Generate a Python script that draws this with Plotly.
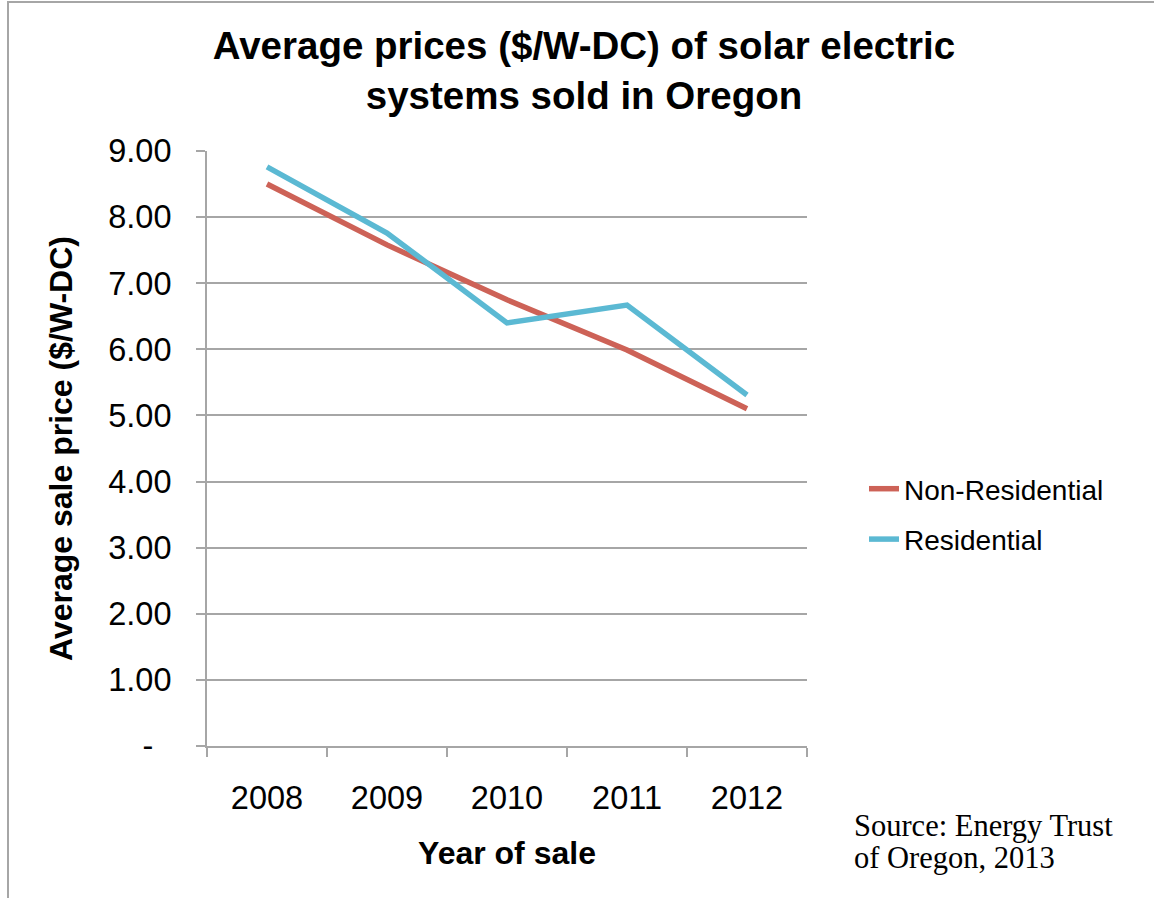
import plotly.graph_objects as go

years = ["2008", "2009", "2010", "2011", "2012"]
non_residential = [8.50, 7.58, 6.75, 5.99, 5.10]
residential = [8.76, 7.76, 6.40, 6.67, 5.31]
y_tick_vals = [0, 1, 2, 3, 4, 5, 6, 7, 8, 9]
y_tick_text = ["-\u2007", "1.00", "2.00", "3.00", "4.00", "5.00", "6.00", "7.00", "8.00", "9.00"]

RED = "#CD6257"
CYAN = "#5BB9D3"
GRID = "#A6A6A6"
FONT = "Liberation Sans, Arial, sans-serif"

W, H = 1154, 898
L, R, T, B = 207, 347, 151, 152
pw, ph = W - L - R, H - T - B

def px_x(x):
    return (x - L) / pw

def px_y(y):
    return (H - B - y) / ph

fig = go.Figure()
fig.add_trace(go.Scatter(x=years, y=non_residential, mode="lines", name="Non-Residential",
                         line=dict(color=RED, width=5.5), legendgroup="a"))
fig.add_trace(go.Scatter(x=years, y=residential, mode="lines", name="Residential",
                         line=dict(color=CYAN, width=5.5), legendgroup="b"))

fig.update_layout(
    width=W, height=H,
    margin=dict(l=L, r=R, t=T, b=B, pad=0),
    paper_bgcolor="white", plot_bgcolor="white",
    font=dict(family=FONT, color="black"),
    title=dict(text="<b>Average prices ($/W-DC) of solar electric<br>systems sold in Oregon</b>",
               font=dict(size=38.5, family=FONT, color="black"),
               x=px_x(584), xref="paper", xanchor="center",
               y=1 - 59 / H, yref="container", yanchor="top"),
    showlegend=True,
    legend=dict(x=px_x(864), xanchor="left", y=px_y(514), yanchor="middle",
                font=dict(size=28, family=FONT, color="black"),
                bgcolor="rgba(0,0,0,0)", tracegroupgap=11, itemwidth=30),
    xaxis=dict(type="category", showgrid=False, showline=True, linecolor=GRID, linewidth=2,
               ticks="outside", ticklen=9, tickwidth=2, tickcolor=GRID, tickson="boundaries",
               tickfont=dict(size=32.5, family=FONT, color="black"), ticklabelstandoff=22,
               title=dict(text="<b>Year of sale</b>", font=dict(size=32, family=FONT, color="black"),
                          standoff=27),
               range=[-0.5, 4.5], fixedrange=True),
    yaxis=dict(range=[0, 9], tickvals=y_tick_vals, ticktext=y_tick_text,
               showgrid=True, gridcolor=GRID, gridwidth=2,
               showline=True, linecolor=GRID, linewidth=2,
               ticks="outside", ticklen=9, tickwidth=2, tickcolor=GRID,
               tickfont=dict(size=32.5, family=FONT, color="black"), ticklabelstandoff=18,
               title=dict(text="<b>Average sale price ($/W-DC)</b>",
                          font=dict(size=32, family=FONT, color="black"), standoff=26),
               zeroline=False, fixedrange=True),
)

fig.add_shape(type="rect", xref="paper", yref="paper",
              x0=px_x(8), x1=px_x(1170), y0=px_y(915), y1=px_y(2),
              line=dict(color=GRID, width=2), fillcolor="rgba(0,0,0,0)", layer="below")

SERIF = "Liberation Serif, Times New Roman, serif"
fig.add_annotation(text="Source: Energy Trust", xref="paper", yref="paper",
                   x=px_x(852), y=px_y(826), xanchor="left", yanchor="middle",
                   showarrow=False, font=dict(size=30.5, family=SERIF, color="black"))
fig.add_annotation(text="of Oregon, 2013", xref="paper", yref="paper",
                   x=px_x(852), y=px_y(858), xanchor="left", yanchor="middle",
                   showarrow=False, font=dict(size=30.5, family=SERIF, color="black"))

fig.write_html("out.html")
